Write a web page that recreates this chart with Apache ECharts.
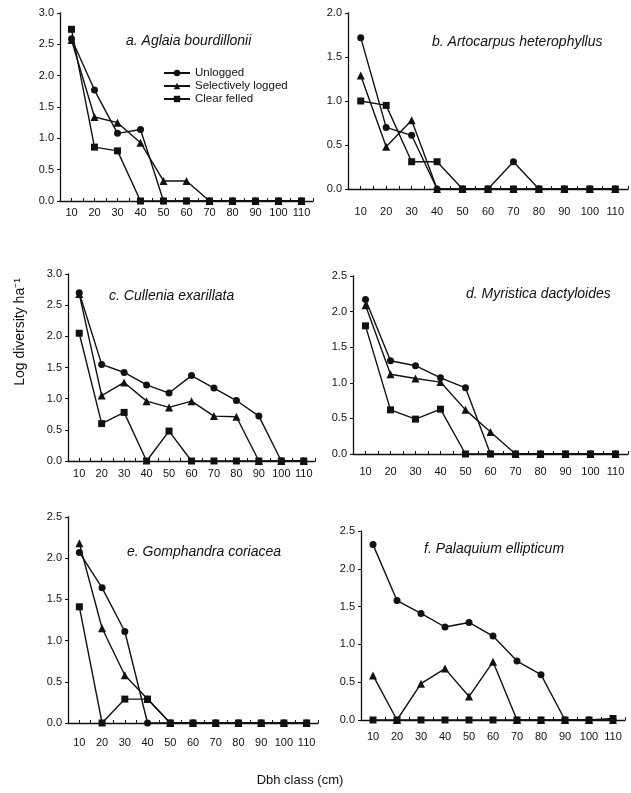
<!DOCTYPE html>
<html>
<head>
<meta charset="utf-8">
<script src="https://cdn.jsdelivr.net/npm/echarts@6/dist/echarts.min.js"></script>
<style>
  html, body { margin: 0; padding: 0; background: #fff; }
  #chart { width: 631px; height: 793px; }
</style>
</head>
<body>
<div id="chart"></div>
<script>
// Dbh classes (cm)
const dbh = [10, 20, 30, 40, 50, 60, 70, 80, 90, 100, 110]
const seriesNames = ['Unlogged', 'Selectively logged', 'Clear felled']

// a. Aglaia bourdillonii
const aUnlogged = [2.59, 1.77, 1.08, 1.14, 0, 0, 0, 0, 0, 0, 0]
const aSelective = [2.57, 1.34, 1.25, 0.93, 0.32, 0.32, 0, 0, 0, 0, 0]
const aClear = [2.74, 0.86, 0.80, 0, 0, 0, 0, 0, 0, 0, 0]
// b. Artocarpus heterophyllus
const bUnlogged = [1.72, 0.70, 0.61, 0, 0, 0, 0.31, 0, 0, 0, 0]
const bSelective = [1.29, 0.48, 0.78, 0, 0, 0, 0, 0, 0, 0, 0]
const bClear = [1.0, 0.95, 0.31, 0.31, 0, 0, 0, 0, 0, 0, 0]
// c. Cullenia exarillata
const cUnlogged = [2.70, 1.55, 1.42, 1.22, 1.09, 1.37, 1.17, 0.97, 0.72, 0, 0]
const cSelective = [2.68, 1.05, 1.26, 0.96, 0.86, 0.96, 0.72, 0.71, 0, 0, 0]
const cClear = [2.05, 0.60, 0.78, 0, 0.48, 0, 0, 0, 0, 0, 0]
// d. Myristica dactyloides
const dUnlogged = [2.17, 1.31, 1.24, 1.07, 0.93, 0, 0, 0, 0, 0, 0]
const dSelective = [2.09, 1.12, 1.06, 1.01, 0.62, 0.31, 0, 0, 0, 0, 0]
const dClear = [1.80, 0.62, 0.49, 0.63, 0, 0, 0, 0, 0, 0, 0]
// e. Gomphandra coriacea
const eUnlogged = [2.07, 1.64, 1.11, 0, 0, 0, 0, 0, 0, 0, 0]
const eSelective = [2.18, 1.15, 0.58, 0.29, 0, 0, 0, 0, 0, 0, 0]
const eClear = [1.41, 0, 0.29, 0.29, 0, 0, 0, 0, 0, 0, 0]
// f. Palaquium ellipticum
const fUnlogged = [2.32, 1.58, 1.41, 1.23, 1.29, 1.11, 0.78, 0.60, 0, 0, 0]
const fSelective = [0.59, 0, 0.48, 0.68, 0.31, 0.77, 0, 0, 0, 0, 0]
const fClear = [0, 0, 0, 0, 0, 0, 0, 0, 0, 0, 0.02]

const yMax = [3.0, 2.0, 3.0, 2.5, 2.5, 2.5]
const titles = [
  'a. Aglaia bourdillonii',
  'b. Artocarpus heterophyllus',
  'c. Cullenia exarillata',
  'd. Myristica dactyloides',
  'e. Gomphandra coriacea',
  'f. Palaquium ellipticum'
]
const panels = [
  [aUnlogged, aSelective, aClear],
  [bUnlogged, bSelective, bClear],
  [cUnlogged, cSelective, cClear],
  [dUnlogged, dSelective, dClear],
  [eUnlogged, eSelective, eClear],
  [fUnlogged, fSelective, fClear]
]

// layout of each panel
const grids = [
  { left: 60, top: 13, width: 253, height: 188 },
  { left: 348, top: 13, width: 282, height: 176 },
  { left: 68, top: 274, width: 247, height: 187 },
  { left: 353, top: 276, width: 278, height: 178 },
  { left: 68, top: 517, width: 250, height: 206 },
  { left: 361, top: 531, width: 264, height: 189 }
]
const labelMargin = [6, 17, 7, 12, 14, 11]
const titlePos = [
  { left: 126, top: 34 },
  { left: 432, top: 35 },
  { left: 109, top: 289 },
  { left: 466, top: 287 },
  { left: 127, top: 545 },
  { left: 424, top: 542 }
]

const ink = '#111'
const font = 'Liberation Sans, Arial, sans-serif'
const symbols = ['circle', 'triangle', 'rect']
const symbolSizes = [7, 8, 7]

const chart = echarts.init(document.getElementById('chart'))

const xAxis = grids.map((g, i) => ({
  type: 'value',
  gridIndex: i,
  min: 5,
  max: 115,
  interval: 5,
  axisLine: { lineStyle: { color: ink, width: 1.3 } },
  axisTick: { inside: true, length: 3, lineStyle: { color: ink } },
  splitLine: { show: false },
  axisLabel: {
    color: ink,
    fontFamily: font,
    fontSize: 11,
    margin: labelMargin[i],
    showMinLabel: true,
    showMaxLabel: true,
    formatter: v => (v % 10 === 0 ? String(v) : '')
  }
}))

const yAxis = grids.map((g, i) => ({
  type: 'value',
  gridIndex: i,
  min: 0,
  max: yMax[i],
  interval: 0.5,
  axisLine: { show: true, lineStyle: { color: ink, width: 1.3 } },
  axisTick: { show: true, length: 3, lineStyle: { color: ink } },
  splitLine: { show: false },
  axisLabel: {
    color: ink,
    fontFamily: font,
    fontSize: 11,
    margin: 6,
    formatter: v => v.toFixed(1)
  }
}))

const series = []
panels.forEach((panel, p) => {
  panel.forEach((vals, k) => {
    series.push({
      name: seriesNames[k],
      type: 'line',
      xAxisIndex: p,
      yAxisIndex: p,
      data: dbh.map((d, j) => [d, vals[j]]),
      symbol: symbols[k],
      symbolSize: symbolSizes[k],
      showAllSymbol: true,
      itemStyle: { color: ink },
      lineStyle: { color: ink, width: 1.4 },
      z: 2 + k,
      animation: false
    })
  })
})

chart.setOption({
  backgroundColor: '#fff',
  animation: false,
  title: titles.map((t, i) => ({
    text: t,
    left: titlePos[i].left,
    top: titlePos[i].top,
    padding: 0,
    textStyle: {
      fontFamily: font,
      fontStyle: 'italic',
      fontWeight: 'normal',
      fontSize: 14,
      color: ink
    }
  })),
  legend: {
    orient: 'vertical',
    left: 158,
    top: 62,
    itemWidth: 26,
    itemHeight: 8,
    itemGap: 1,
    data: seriesNames,
    textStyle: { fontFamily: font, fontSize: 11.5, color: ink }
  },
  grid: grids,
  xAxis,
  yAxis,
  series,
  graphic: [
    {
      type: 'text',
      x: 20,
      y: 332,
      rotation: Math.PI / 2,
      style: {
        text: 'Log diversity ha⁻¹',
        fontFamily: font,
        fontSize: 14,
        fill: ink,
        textAlign: 'center',
        textVerticalAlign: 'middle'
      }
    },
    {
      type: 'text',
      x: 300,
      y: 780,
      style: {
        text: 'Dbh class (cm)',
        fontFamily: font,
        fontSize: 13,
        fill: ink,
        textAlign: 'center',
        textVerticalAlign: 'middle'
      }
    }
  ]
})
</script>
</body>
</html>
